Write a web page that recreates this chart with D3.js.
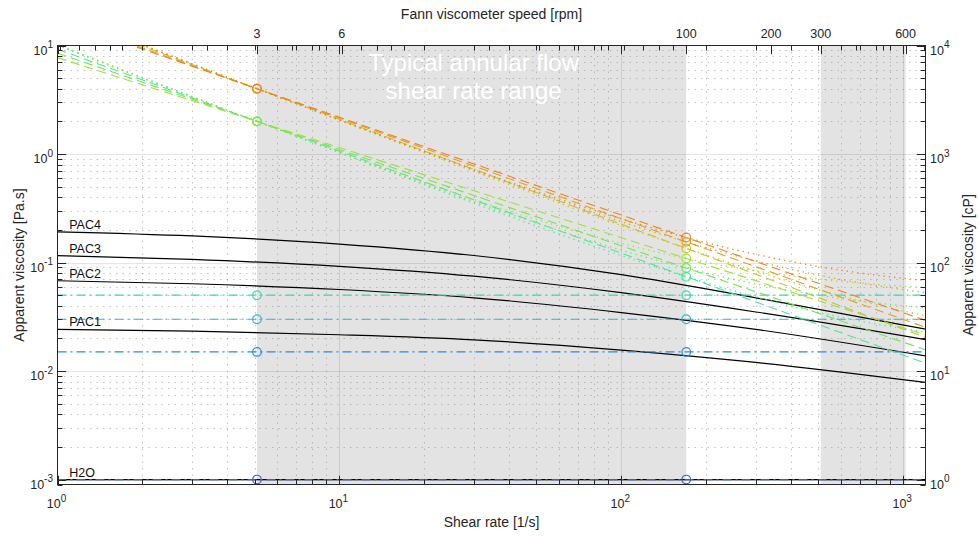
<!DOCTYPE html>
<html>
<head>
<meta charset="utf-8">
<script src="https://cdn.jsdelivr.net/npm/d3@7/dist/d3.min.js"></script>
<style>
  body { margin: 0; background: #fff; }
  svg { display: block; font-family: "Liberation Sans", Arial, Helvetica, sans-serif; }
</style>
</head>
<body>
<svg id="chart" width="979" height="538"></svg>
<script>
// Top axis: Fann viscometer speed, shear rate = 1.7 * rpm
var rpmTicks = [3, 6, 100, 200, 300, 600];
var rpmFactor = 1.7;

// Shaded shear rate ranges
var bands = [[5.1, 170], [510, 1020]];
var bandText = ["Typical annular flow", "shear rate range"];

// Solid black curves (PAC solutions and water)
var pacNames = ["PAC4", "PAC3", "PAC2", "PAC1", "H2O"];
var pacShear = [1, 3, 10, 30, 100, 300, 1200];
var pac4 = [0.192, 0.176, 0.148, 0.116, 0.0773, 0.0473, 0.0243];
var pac3 = [0.1156, 0.1067, 0.0923, 0.0748, 0.0527, 0.035, 0.0195];
var pac2 = [0.0679, 0.0637, 0.0564, 0.0473, 0.0346, 0.0242, 0.0138];
var pac1 = [0.0242, 0.0233, 0.0216, 0.0194, 0.0156, 0.0120, 0.00785];
var h2o = [0.001, 0.001, 0.001, 0.001, 0.001, 0.001, 0.001];

// Newtonian fluids (dash-dot)
var newtonShear = [1, 1200];
var newtonValues = [0.05, 0.03, 0.015, 0.001];
var newtonColors = ["#3dd6b0", "#2eb4dc", "#1f8ef0", "#2366e8"];

// Shear thinning fluids, readings at 3 rpm and 100 rpm
var fluidColors = ["#f0821e", "#e3a01f", "#c9c22a", "#9fe03e", "#6ee852", "#45ea98"];
var fluidAt3 = [4, 4, 4, 2, 2, 2];
var fluidAt100 = [0.17, 0.155, 0.135, 0.109, 0.089, 0.074];

// Power law fits (dashed)
var powerShear = [1, 5.1, 170, 1200];
var powerA = [17.3, 4, 0.17, 0.0293];
var powerB = [18.1, 4, 0.155, 0.0253];
var powerC = [19.3, 4, 0.135, 0.0204];
var powerD = [7.73, 2, 0.109, 0.0215];
var powerE = [8.50, 2, 0.089, 0.0157];
var powerF = [9.25, 2, 0.074, 0.0118];

// Bingham fits (dotted)
var binghamShear = [1, 2, 3, 5.1, 10, 20, 50, 100, 170, 300, 510, 1000, 1200];
var binghamA = [20.18, 10.12, 6.76, 4.0, 2.06, 1.058, 0.454, 0.253, 0.170, 0.119, 0.091, 0.0716, 0.0683];
var binghamB = [20.25, 10.14, 6.775, 4.0, 2.058, 1.047, 0.440, 0.238, 0.155, 0.1035, 0.0757, 0.0563, 0.0529];
var binghamC = [20.34, 10.18, 6.789, 4.0, 2.048, 1.032, 0.422, 0.219, 0.135, 0.0832, 0.0553, 0.0358, 0.0324];
var binghamD = [9.99, 5.02, 3.365, 2.0, 1.045, 0.548, 0.249, 0.150, 0.109, 0.0837, 0.0700, 0.0605, 0.0588];
var binghamE = [10.08, 5.054, 3.379, 2.0, 1.035, 0.532, 0.231, 0.130, 0.089, 0.0634, 0.0496, 0.0400, 0.0383];
var binghamF = [10.14, 5.077, 3.390, 2.0, 1.027, 0.521, 0.217, 0.116, 0.074, 0.0482, 0.0343, 0.0246, 0.0229];

var svg = d3.select("#chart");
var pl = 57.5, pr = 925.5, pt = 45.5, pb = 484.5;
var ink = "#262626";

var x = d3.scaleLog().domain([1, 1200]).range([pl, pr]);
var xRpm = d3.scaleLog().domain([1 / rpmFactor, 1200 / rpmFactor]).range([pl, pr]);
var y = d3.scaleLog().domain([9e-4, 10]).range([pb, pt]);
var yCp = d3.scaleLog().domain([0.9, 10000]).range([pb, pt]);

var isDecade = function(v) {
  var l = Math.log10(v);
  return Math.abs(l - Math.round(l)) < 1e-6;
};

svg.append("clipPath").attr("id", "plot").append("rect")
  .attr("x", pl).attr("y", pt).attr("width", pr - pl).attr("height", pb - pt);

// Shaded ranges
svg.append("g").selectAll("rect").data(bands).enter().append("rect")
  .attr("x", function(d) { return x(d[0]); })
  .attr("width", function(d) { return x(d[1]) - x(d[0]); })
  .attr("y", pt).attr("height", pb - pt)
  .attr("fill", "#e3e3e3");

// Grid
var grid = svg.append("g");
var xTicks = x.ticks().filter(function(d) { return d > 1 && d < 1200; });
var yTicks = y.ticks().filter(function(d) { return d > 9e-4 && d < 10; });
grid.selectAll(".vx").data(xTicks).enter().append("line")
  .attr("x1", function(d) { return Math.round(x(d)) + 0.5; })
  .attr("x2", function(d) { return Math.round(x(d)) + 0.5; })
  .attr("y1", pt).attr("y2", pb)
  .attr("stroke", function(d) { return isDecade(d) ? "#000" : "#8c8c8c"; })
  .attr("stroke-opacity", function(d) { return isDecade(d) ? 0.1 : 0.5; })
  .attr("stroke-dasharray", function(d) { return isDecade(d) ? null : "1.5,5"; });
grid.selectAll(".hy").data(yTicks).enter().append("line")
  .attr("y1", function(d) { return Math.round(y(d)) + 0.5; })
  .attr("y2", function(d) { return Math.round(y(d)) + 0.5; })
  .attr("x1", pl).attr("x2", pr)
  .attr("stroke", function(d) { return isDecade(d) ? "#000" : "#8c8c8c"; })
  .attr("stroke-opacity", function(d) { return isDecade(d) ? 0.1 : 0.5; })
  .attr("stroke-dasharray", function(d) { return isDecade(d) ? null : "1.5,5"; });

// Band caption
var midX = Math.sqrt(bands[0][0] * bands[0][1]);
svg.append("text")
  .attr("x", x(midX) + 2).attr("y", 70.5)
  .attr("text-anchor", "middle").attr("font-size", 24).attr("fill", "#fff")
  .selectAll("tspan").data(bandText).enter().append("tspan")
  .attr("x", x(midX) + 2).attr("dy", function(d, i) { return i ? 28 : 0; })
  .text(function(d) { return d; });

var plot = svg.append("g").attr("clip-path", "url(#plot)");
var toPts = function(xs, ys) { return xs.map(function(v, i) { return [v, ys[i]]; }); };
var straight = d3.line().x(function(d) { return x(d[0]); }).y(function(d) { return y(d[1]); });
var smooth = d3.line().curve(d3.curveMonotoneX).x(function(d) { return x(d[0]); }).y(function(d) { return y(d[1]); });

// Black curves
var pacSeries = [pac4, pac3, pac2, pac1, h2o];
pacSeries.forEach(function(s) {
  plot.append("path").attr("d", smooth(toPts(pacShear, s)))
    .attr("fill", "none").attr("stroke", "#000").attr("stroke-width", 1.2);
});

// Newtonian dash-dot lines
newtonValues.forEach(function(v, i) {
  plot.append("path").attr("d", straight(toPts(newtonShear, [v, v])))
    .attr("fill", "none").attr("stroke", newtonColors[i]).attr("stroke-width", 1.2)
    .attr("stroke-dasharray", "9,4,2,4");
});

// Model fits
var powerSeries = [powerA, powerB, powerC, powerD, powerE, powerF];
var binghamSeries = [binghamA, binghamB, binghamC, binghamD, binghamE, binghamF];
for (var i = fluidColors.length - 1; i >= 0; i--) {
  plot.append("path").attr("d", smooth(toPts(binghamShear, binghamSeries[i])))
    .attr("fill", "none").attr("stroke", fluidColors[i]).attr("stroke-width", 1.3)
    .attr("stroke-dasharray", "1.3,4");
  plot.append("path").attr("d", straight(toPts(powerShear, powerSeries[i])))
    .attr("fill", "none").attr("stroke", fluidColors[i]).attr("stroke-width", 1.1)
    .attr("stroke-dasharray", "9,5");
}

// Measurement circles at 3 and 100 rpm
var marks = [];
newtonValues.forEach(function(v, i) {
  marks.push([bands[0][0], v, newtonColors[i]], [bands[0][1], v, newtonColors[i]]);
});
for (var j = fluidColors.length - 1; j >= 0; j--) {
  marks.push([bands[0][0], fluidAt3[j], fluidColors[j]], [bands[0][1], fluidAt100[j], fluidColors[j]]);
}
svg.append("g").selectAll("circle").data(marks).enter().append("circle")
  .attr("cx", function(d) { return x(d[0]); })
  .attr("cy", function(d) { return y(d[1]); })
  .attr("r", 4.3).attr("fill", "none")
  .attr("stroke", function(d) { return d[2]; }).attr("stroke-width", 1.2);

// Curve names
svg.append("g").selectAll("text").data(pacNames).enter().append("text")
  .attr("x", x(1.1)).attr("y", function(d, i) { return y(pacSeries[i][0]) - 3; })
  .attr("font-size", 12.5).attr("fill", "#111")
  .text(function(d) { return d; });

// Axes box
var axes = svg.append("g").attr("stroke", ink).attr("fill", "none");
axes.append("rect").attr("x", pl).attr("y", pt).attr("width", pr - pl).attr("height", pb - pt)
  .attr("stroke-width", 1);

var tickLen = function(d) { return isDecade(d) ? 8.7 : 5; };
var allX = x.ticks().filter(function(d) { return d >= 1 && d <= 1200; });
// bottom and mirrored top ticks
allX.forEach(function(d) {
  var px = Math.round(x(d)) + 0.5;
  axes.append("line").attr("x1", px).attr("x2", px).attr("y1", pb).attr("y2", pb - tickLen(d));
  axes.append("line").attr("x1", px).attr("x2", px).attr("y1", pt).attr("y2", pt + tickLen(d));
});
// rpm ticks on top
xRpm.ticks().forEach(function(d) {
  if (xRpm(d) < pl || xRpm(d) > pr) return;
  var px = Math.round(xRpm(d)) + 0.5;
  axes.append("line").attr("x1", px).attr("x2", px).attr("y1", pt).attr("y2", pt + 5);
});
rpmTicks.forEach(function(d) {
  var px = Math.round(xRpm(d)) + 0.5;
  axes.append("line").attr("x1", px).attr("x2", px).attr("y1", pt).attr("y2", pt + 8.7);
});
// left and right ticks
y.ticks().filter(function(d) { return d >= 9e-4 && d <= 10; }).forEach(function(d) {
  var py = Math.round(y(d)) + 0.5;
  axes.append("line").attr("y1", py).attr("y2", py).attr("x1", pl).attr("x2", pl + tickLen(d));
});
yCp.ticks().filter(function(d) { return d >= 0.9 && d <= 10000; }).forEach(function(d) {
  var py = Math.round(yCp(d)) + 0.5;
  axes.append("line").attr("y1", py).attr("y2", py).attr("x1", pr).attr("x2", pr - tickLen(d));
});

// Tick labels
var labels = svg.append("g").attr("fill", ink).attr("font-size", 12.5);
var powLabel = function(t, exp) {
  t.append("tspan").text("10");
  t.append("tspan").attr("dy", -6.5).attr("font-size", 10).text(exp);
};
[0, 1, 2, 3].forEach(function(e) {
  var t = labels.append("text").attr("x", x(Math.pow(10, e)) - 1).attr("y", 508).attr("text-anchor", "middle");
  powLabel(t, e);
});
[1, 0, -1, -2, -3].forEach(function(e) {
  var t = labels.append("text").attr("x", pl - 4.5).attr("y", y(Math.pow(10, e)) + 9).attr("text-anchor", "end");
  powLabel(t, e);
});
[4, 3, 2, 1, 0].forEach(function(e) {
  var t = labels.append("text").attr("x", pr + 4.5).attr("y", yCp(Math.pow(10, e)) + 9);
  powLabel(t, e);
});
rpmTicks.forEach(function(d) {
  labels.append("text").attr("x", xRpm(d)).attr("y", 38).attr("text-anchor", "middle").text(d);
});

// Axis titles
var titles = svg.append("g").attr("fill", ink).attr("font-size", 14).attr("text-anchor", "middle");
titles.append("text").attr("x", (pl + pr) / 2).attr("y", 527).text("Shear rate [1/s]");
titles.append("text").attr("x", (pl + pr) / 2).attr("y", 19).text("Fann viscometer speed [rpm]");
titles.append("text").attr("transform", "translate(24," + (pt + pb) / 2 + ") rotate(-90)")
  .text("Apparent viscosity [Pa.s]");
titles.append("text").attr("transform", "translate(973," + (pt + pb) / 2 + ") rotate(-90)")
  .text("Apparent viscosity [cP]");
</script>
</body>
</html>
